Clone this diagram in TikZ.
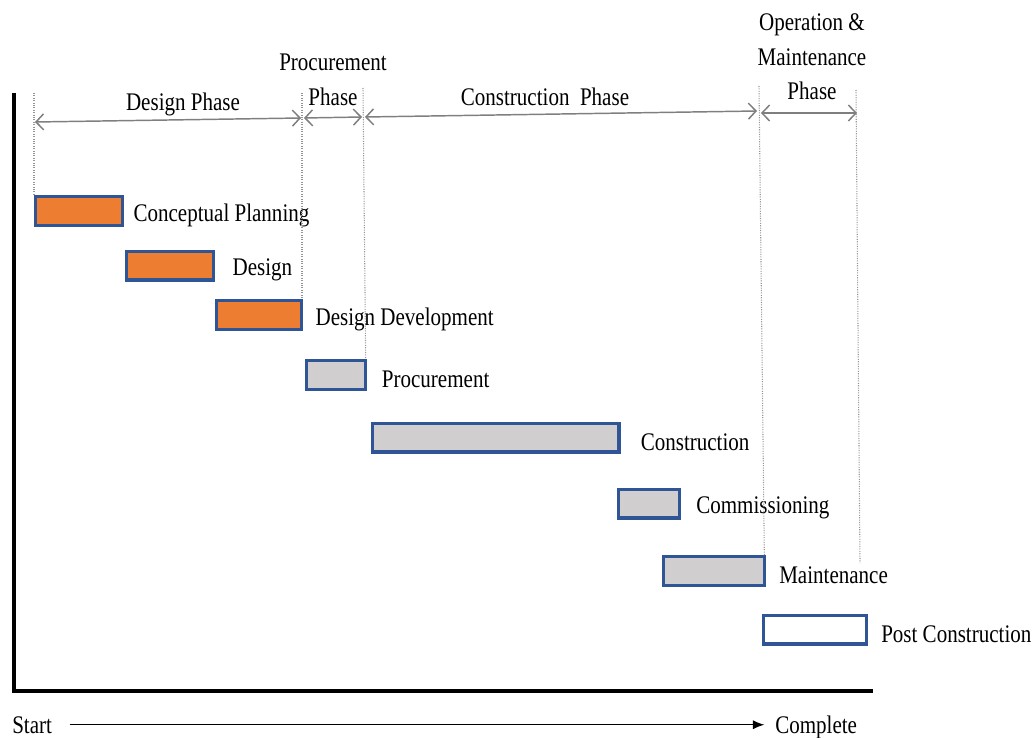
\documentclass[tikz,border=0pt]{standalone}
\usepackage{fontspec}
\setmainfont{Liberation Serif}[FakeStretch=0.83]
\usetikzlibrary{arrows.meta, positioning}
\definecolor{azulborde}{HTML}{2F5597}
\definecolor{naranjadiseno}{HTML}{ED7D31}
\definecolor{grisobra}{HTML}{D0CECE}
\definecolor{grisguia}{HTML}{959595}
\definecolor{grisflecha}{HTML}{7F7F7F}
\tikzset{
  barraBase/.style={
    draw=azulborde, line width=2.5pt, inner sep=0pt,
    minimum height=21.5pt, fill=white
  },
  barraDiseno/.style={barraBase, fill=naranjadiseno},
  barraObra/.style={barraBase, fill=grisobra},
  barraPost/.style={barraBase, fill=white},
  textoBase/.style={font=\fontsize{19}{26}\selectfont, inner sep=0pt},
  etiquetaBarra/.style={textoBase, yshift=-3.5pt},
  etiquetaFase/.style={textoBase, align=center},
  flechaFase/.style={{Straight Barb[length=2mm,width=4.2mm]}-{Straight Barb[length=2mm,width=4.2mm]},
    line width=1.1pt, grisflecha},
  lineaGuia/.style={grisguia, line width=0.8pt, densely dotted},
  ejeTiempo/.style={line width=2.6pt, black},
  flechaTiempo/.style={-{Latex[length=3mm,width=2.4mm]}, line width=0.9pt, black},
}

\begin{document}
\begin{tikzpicture}[x=0.75pt, y=-0.75pt]
    \useasboundingbox (0,0) rectangle (1032,738);
    % ejes
    \coordinate (ejeArriba) at (14,93);
    \coordinate (ejeFin) at (873,691);
    \draw[ejeTiempo] (ejeArriba) |- (ejeFin);
    % barras de actividades
    \node[barraDiseno, minimum width=65pt] (planeacion) at (79,211) {};
    \node[barraDiseno, minimum width=65pt] (diseno) at (170,265.5) {};
    \node[barraDiseno, minimum width=64pt] (desarrollo) at (259,315) {};
    \node[barraObra, minimum width=44pt] (compras) at (336,375) {};
    \node[barraObra, minimum width=185pt] (obra) at (495.5,437.5) {};
    \node[barraObra, minimum width=46pt] (puesta) at (649,503.5) {};
    \node[barraObra, minimum width=76pt] (mantenimiento) at (714,571) {};
    \node[barraPost, minimum width=77.5pt] (post) at (815,629.5) {};
    \node[etiquetaBarra, right=7pt of planeacion] (tPlaneacion) {Conceptual Planning};
    \node[etiquetaBarra, right=13pt of diseno] (tDiseno) {Design};
    \node[etiquetaBarra, right=9pt of desarrollo] (tDesarrollo) {Design Development};
    \node[etiquetaBarra, right=11pt of compras] (tCompras) {Procurement};
    \node[etiquetaBarra, right=15pt of obra] (tObra) {Construction};
    \node[etiquetaBarra, right=11pt of puesta] (tPuesta) {Commissioning};
    \node[etiquetaBarra, right=9.5pt of mantenimiento] (tMantenimiento) {Maintenance};
    \node[etiquetaBarra, right=9.5pt of post] (tPost) {Post Construction};
    % lineas guia de fases
    \coordinate (guiaA) at (34,93);
    \coordinate (guiaB) at (302,93);
    \coordinate (guiaC) at (363,88);
    \coordinate (guiaD) at (759,86);
    \coordinate (guiaE) at (856,90);
    \coordinate (guiaEfin) at (860,563);
    \draw[lineaGuia] (guiaA) -- (guiaA |- planeacion.north);
    \draw[lineaGuia] (guiaB) -- (guiaB |- desarrollo.north);
    \draw[lineaGuia] (guiaC) -- ([xshift=-1pt]compras.north east);
    \draw[lineaGuia] (guiaD) -- ([xshift=-1.5pt]mantenimiento.north east);
    \draw[lineaGuia] (guiaE) -- (guiaEfin);
    % fases
    \node[etiquetaFase] (fDiseno) at (183,104) {Design Phase};
    \node[etiquetaFase] (fCompras) at (333,80) {Procurement\\Phase};
    \node[etiquetaFase] (fObra) at (545,97) {Construction\ \ Phase};
    \node[etiquetaFase] (fOperacion) at (812,57) {Operation \&\\Maintenance\\Phase};
    \coordinate (dIni) at (35,122);
    \coordinate (dFin) at (301,118);
    \coordinate (cIni) at (304,118);
    \coordinate (cFin) at (362,117);
    \coordinate (oIni) at (365,117);
    \coordinate (oFin) at (757,111);
    \coordinate (mIni) at (761,113);
    \coordinate (mFin) at (857,113);
    \draw[flechaFase] (dIni) -- (dFin);
    \draw[flechaFase] (cIni) -- (cFin);
    \draw[flechaFase] (oIni) -- (oFin);
    \draw[flechaFase] (mIni) -- (mFin);
    % inicio y fin
    \node[textoBase, anchor=base west] (inicio) at (12,733) {Start};
    \node[textoBase, anchor=base west] (fin) at (775,733) {Complete};
    \draw[flechaTiempo, shorten <=13pt, shorten >=8pt] (inicio.east) -- (inicio.east -| fin.west);
  \end{tikzpicture}
\end{document}
